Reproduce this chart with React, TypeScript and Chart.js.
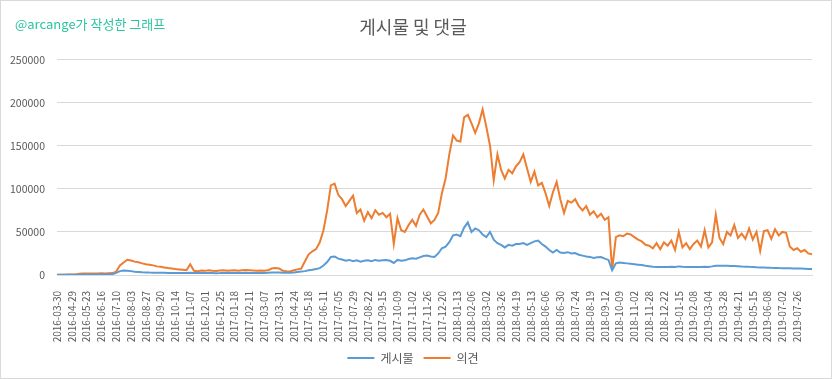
import React, { useEffect, useRef } from 'react';
import { Chart, registerables } from 'chart.js';

Chart.register(...registerables);

const TITLE = '게시물 및 댓글';
const WATERMARK = '@arcange가 작성한 그래프';
const SERIES_NAMES = ['게시물', '의견'];

// One label every 4 plotted points
const TICK_LABELS = [
  '2016-03-30', '2016-04-29', '2016-05-23', '2016-06-16', '2016-07-10', '2016-08-03', '2016-08-27',
  '2016-09-20', '2016-10-14', '2016-11-07', '2016-12-01', '2016-12-25',
  '2017-01-18', '2017-02-11', '2017-03-07', '2017-03-31', '2017-04-24', '2017-05-18', '2017-06-11',
  '2017-07-05', '2017-07-29', '2017-08-22', '2017-09-15', '2017-10-09', '2017-11-02', '2017-11-26', '2017-12-20',
  '2018-01-13', '2018-02-06', '2018-03-02', '2018-03-26', '2018-04-19', '2018-05-13', '2018-06-06',
  '2018-06-30', '2018-07-24', '2018-08-19', '2018-09-12', '2018-10-09', '2018-11-02', '2018-11-28', '2018-12-22',
  '2019-01-15', '2019-02-08', '2019-03-04', '2019-03-28', '2019-04-21', '2019-05-15', '2019-06-08',
  '2019-07-02', '2019-07-26',
];
const POINTS_PER_TICK = 4;

// 게시물 (posts)
const POSTS = [
  100, 150, 150, 200, 200, 250, 400, 500, 500, 600,
  600, 700, 700, 800, 900, 1000, 2500, 4500, 5300, 5000,
  4500, 3800, 3500, 3200, 3000, 2800, 2700, 2600, 2500, 2500,
  2400, 2400, 2300, 2300, 2300, 2200, 2500, 2300, 2200, 2400,
  2300, 2200, 2300, 2100, 2200, 2400, 2300, 2200, 2300, 2400,
  2300, 2500, 2400, 2300, 2200, 2400, 2300, 2500, 2800, 3000,
  2900, 2600, 2500, 2600, 3000, 3500, 4000, 4500, 5500, 6000,
  7000, 8000, 11000, 15000, 21000, 21500, 19000, 18000, 16500, 17500,
  16000, 17000, 15500, 16500, 17000, 16000, 17500, 16500, 17000, 17500,
  16500, 14000, 17500, 16500, 17000, 18500, 19500, 19000, 20500, 22000,
  22500, 21500, 21000, 25000, 31000, 33000, 38000, 46000, 47000, 45000,
  55000, 61000, 50000, 54000, 52000, 47000, 44000, 50000, 41000, 37000,
  35000, 32000, 35000, 34000, 36000, 36000, 37000, 35000, 37000, 39000,
  40000, 36000, 33000, 29000, 26000, 29000, 26000, 25500, 26500, 25000,
  25500, 23500, 22500, 21500, 21000, 19800, 20500, 20900, 19000, 17500,
  5500, 13500, 14500, 14000, 13500, 13000, 12500, 12000, 11500, 10800,
  10200, 9600, 9300, 9400, 9200, 9400, 9500, 9300, 10000, 9600,
  9400, 9300, 9200, 9300, 9400, 9500, 9300, 10000, 10800, 10800,
  10600, 10800, 10500, 10400, 10200, 9900, 9700, 9500, 9400, 9000,
  8700, 8600, 8500, 8300, 8200, 8000, 7900, 7800, 7700, 7600,
  7500, 7400, 7300, 7100, 7000,
];

// 의견 (comments)
const COMMENTS = [
  300, 400, 350, 500, 450, 600, 1500, 1600, 1700, 1600,
  1800, 1700, 1900, 1800, 2000, 2200, 4000, 11000, 14500, 17700,
  16800, 15500, 14800, 13500, 12500, 12000, 11200, 10000, 9500, 8800,
  8000, 7600, 7000, 6500, 6000, 5500, 12500, 5000, 4500, 5200,
  4800, 5500, 5000, 4700, 5300, 5600, 4900, 5200, 5500, 5000,
  5400, 5800, 5500, 5200, 4900, 5300, 5000, 5400, 7500, 8200,
  7600, 5000, 4500, 4200, 5500, 6500, 7500, 16000, 24000, 27500,
  30000, 38000, 52000, 75000, 104000, 106000, 93000, 88000, 80000, 86000,
  92000, 72000, 76000, 63000, 73000, 66000, 75000, 70000, 72000, 67000,
  71000, 36000, 66000, 52000, 50000, 58000, 64000, 57000, 70000, 76000,
  68000, 60000, 64000, 72000, 95000, 112000, 140000, 162000, 156000, 155000,
  183000, 186000, 176000, 165000, 176000, 192000, 172000, 150000, 110000, 140000,
  122000, 112000, 122000, 118000, 126000, 131000, 140000, 124000, 108000, 120000,
  104000, 107000, 95000, 80000, 96000, 108000, 88000, 72000, 86000, 84000,
  88000, 80000, 75000, 80000, 70000, 74000, 67000, 71000, 64000, 67000,
  6000, 44000, 46000, 45000, 48000, 47000, 44000, 41000, 39000, 35000,
  34000, 31000, 37000, 30000, 38000, 34000, 40000, 29000, 50000, 32000,
  37000, 30000, 36000, 40000, 33000, 52000, 32000, 38000, 70000, 43000,
  36000, 50000, 46000, 58000, 43000, 48000, 42000, 54000, 41000, 50000,
  28000, 51000, 52000, 42000, 53000, 46000, 50000, 49000, 33000, 29000,
  31000, 27000, 29000, 25000, 24000,
];

const CATEGORIES = POSTS.map((_, i) =>
  i % POINTS_PER_TICK === 0 ? TICK_LABELS[i / POINTS_PER_TICK] ?? '' : ''
);

const FONT = '"Noto Sans CJK KR", "Noto Sans", sans-serif';
const TEXT_COLOR = '#595959';

const decorPlugin = {
  id: 'decor',
  afterDraw(chart: any) {
    const ctx = chart.ctx as CanvasRenderingContext2D;
    ctx.save();
    ctx.font = `13px ${FONT}`;
    ctx.fillStyle = '#2bc4a0';
    ctx.textBaseline = 'middle';
    ctx.textAlign = 'left';
    ctx.fillText(WATERMARK, 15, 24);
    ctx.strokeStyle = '#d9d9d9';
    ctx.lineWidth = 1;
    ctx.strokeRect(0.5, 0.5, chart.width - 1, chart.height - 1);
    ctx.restore();
  },
};

export default function App() {
  const ref = useRef<HTMLCanvasElement>(null);
  useEffect(() => {
    document.body.style.margin = '0';
    Chart.defaults.font.family = FONT;
    const chart = new Chart(ref.current!, {
      type: 'line',
      data: {
        labels: CATEGORIES,
        datasets: [
          {
            label: SERIES_NAMES[0],
            data: POSTS,
            borderColor: '#5B9BD5',
            backgroundColor: '#5B9BD5',
            borderWidth: 2,
            pointRadius: 0,
            tension: 0,
          },
          {
            label: SERIES_NAMES[1],
            data: COMMENTS,
            borderColor: '#ED7D31',
            backgroundColor: '#ED7D31',
            borderWidth: 2,
            pointRadius: 0,
            tension: 0,
          },
        ],
      },
      options: {
        animation: false,
        responsive: false,
        maintainAspectRatio: false,
        layout: { padding: { top: 8, left: 8, right: 14, bottom: 5 } },
        plugins: {
          title: {
            display: true,
            text: TITLE,
            color: TEXT_COLOR,
            font: { size: 18, weight: 'normal' },
            padding: { top: 8, bottom: 22 },
          },
          legend: {
            position: 'bottom',
            labels: {
              usePointStyle: true,
              pointStyle: 'line',
              pointStyleWidth: 27,
              color: TEXT_COLOR,
              font: { size: 12 },
              padding: 10,
            },
          },
          tooltip: { enabled: false },
        },
        scales: {
          x: {
            grid: { display: false },
            border: { color: '#D9D9D9' },
            ticks: {
              autoSkip: false,
              maxRotation: 90,
              minRotation: 90,
              color: TEXT_COLOR,
              font: { size: 10 },
              padding: 8,
            },
            afterFit: (s: any) => {
              s.height = 67;
            },
          },
          y: {
            min: 0,
            max: 250000,
            ticks: {
              stepSize: 50000,
              color: TEXT_COLOR,
              font: { size: 10.5 },
              padding: 12,
              callback: (v: any) => String(v),
            },
            grid: { color: '#D9D9D9', drawTicks: false },
            border: { display: false },
            afterFit: (s: any) => {
              s.width = 49;
            },
          },
        },
      } as any,
      plugins: [decorPlugin],
    });
    return () => chart.destroy();
  }, []);
  return (
    <canvas
      ref={ref}
      width={832}
      height={379}
      style={{ position: 'fixed', left: 0, top: 0, width: 832, height: 379 }}
    />
  );
}
